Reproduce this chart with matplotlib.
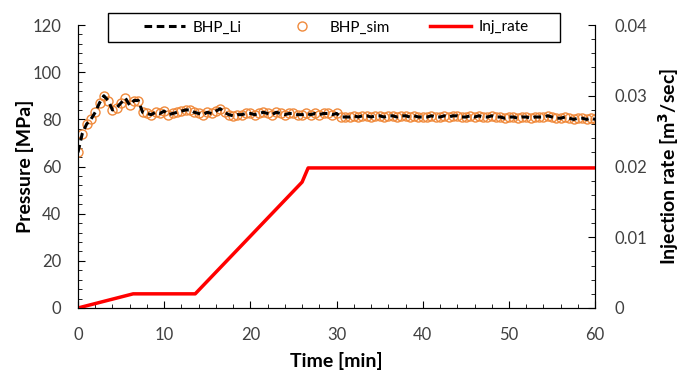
import numpy as np
import matplotlib.pyplot as plt
from matplotlib.ticker import MultipleLocator
from matplotlib.patches import Rectangle

plt.rcParams['font.family'] = ['Lato', 'DejaVu Sans']

# BHP sampled every 0.5 min from 0 to 60
time = np.arange(0, 60.5, 0.5)
bhp = [66, 74, 78, 80, 83, 87, 90, 88, 84, 85,
       87, 89, 86, 88, 88, 83, 82.5, 82, 83, 82.5,
       83.5, 82, 82.5, 83, 83.5, 84, 84, 83, 82.5, 82,
       83, 82.5, 83.5, 84.5, 83, 82, 81.5, 82, 82, 82.5,
       82.5, 82, 82.5, 83, 82.5, 82, 83, 82.5, 82, 82.5,
       82.5, 82, 82, 82.5, 82, 82.5, 82, 82.5, 82.5, 82,
       82.5, 81, 81, 81, 81.5, 81, 81.5, 81.5, 81, 81.5,
       81.5, 81, 81.5, 81.5, 81, 81.5, 81.5, 81, 81.5, 81,
       81, 81, 81.5, 81, 81, 81.5, 81, 81.5, 81.5, 81,
       81, 81.5, 81, 81.5, 81, 81, 81.5, 81, 81, 80.5,
       81, 81, 80.5, 81, 81, 80.5, 81, 81, 81, 81.5,
       81, 80.5, 80.5, 81, 80.5, 80, 80.5, 80.5, 80, 80.5,
       80]

rate_t = [0, 6.4, 13.6, 26.0, 26.7, 60]
rate = [0, 0.002, 0.002, 0.0178, 0.0198, 0.0198]

fig = plt.figure(figsize=(6.81, 3.74), dpi=100)
ax = fig.add_axes([0.1145, 0.1765, 0.7595, 0.7565])
ax2 = ax.twinx()

ax.plot(time, bhp, 'o', ms=6.5, mfc='none', mec='#f08a3c', mew=1.0, label='BHP_sim', zorder=2)
ax.plot(time, bhp, '--', color='black', lw=2.2, dashes=(2.5, 1.5), label='BHP_Li', zorder=3)
ax2.plot(rate_t, rate, '-', color='#ff0000', lw=2.5, label='Inj_rate')

ax.set_xlim(0, 60)
ax.set_ylim(0, 120)
ax2.set_ylim(0, 0.04)

ax.xaxis.set_major_locator(MultipleLocator(10))
ax.xaxis.set_minor_locator(MultipleLocator(2))
ax.yaxis.set_major_locator(MultipleLocator(20))
ax.yaxis.set_minor_locator(MultipleLocator(4))
ax2.set_yticks([0, 0.01, 0.02, 0.03, 0.04])
ax2.set_yticklabels(['0', '0.01', '0.02', '0.03', '0.04'])
ax2.yaxis.set_minor_locator(MultipleLocator(0.002))

for a in (ax, ax2):
    a.spines['top'].set_visible(False)
    a.tick_params(which='both', direction='in', labelsize=12, colors='black', labelcolor='#404040')
    a.tick_params(which='major', length=5)
    a.tick_params(which='minor', length=3)
ax.tick_params(axis='x', pad=14)
ax.tick_params(axis='y', pad=12)
ax2.tick_params(axis='y', pad=14)

ax.set_xlabel('Time [min]', fontsize=14, fontweight='bold', labelpad=6)
ax.set_ylabel('Pressure [MPa]', fontsize=14, fontweight='bold', labelpad=-1)
ax2.set_ylabel('Injection rate [m$^\\mathbf{3}$/sec]', fontsize=14, fontweight='bold')
ax2.yaxis.set_label_coords(1.118, 0.5)

h1, l1 = ax.get_legend_handles_labels()
h2, l2 = ax2.get_legend_handles_labels()
handles = [h1[1], h1[0], h2[0]]
labels = [l1[1], l1[0], l2[0]]
leg = fig.legend(handles, labels, loc='center', bbox_to_anchor=(0.494, 0.9265), ncol=3,
                 fontsize=11, frameon=False, handlelength=2.7, handletextpad=0.5,
                 columnspacing=2.6)

# legend frame (wider than the entries, as in the original)
fig.patches.append(Rectangle((108 / 681, 1 - 42 / 374), 452 / 681, 29 / 374,
                             transform=fig.transFigure, fill=False, edgecolor='black',
                             lw=1.0, zorder=5))

fig.savefig('out.png', dpi=100)
